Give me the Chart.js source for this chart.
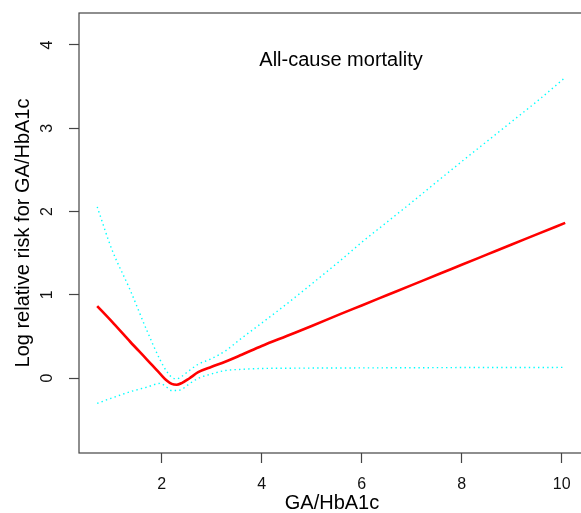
<!DOCTYPE html>
<html>
<head>
<meta charset="utf-8">
<script src="https://cdn.jsdelivr.net/npm/chart.js@4.4.1/dist/chart.umd.min.js"></script>
<style>
  html, body { margin: 0; padding: 0; background: #fff; overflow: hidden; }
  #wrap { position: relative; width: 590px; height: 513px; }
</style>
</head>
<body>
<div id="wrap"><canvas id="c"></canvas></div>
<script>
// ---- data ----
const gaHbA1c = [0.71, 1.0, 1.37, 1.7, 1.97, 2.1, 2.2, 2.3, 2.4, 2.55, 2.73, 3.0, 3.27, 3.6, 4.0, 4.5, 5.0, 5.57, 6.0, 6.5, 7.0, 7.57, 8.0, 8.5, 9.0, 9.5, 10.07];
const logRR   = [0.864, 0.68, 0.436, 0.225, 0.05, -0.03, -0.07, -0.08, -0.06, -0.005, 0.07, 0.135, 0.196, 0.28, 0.385, 0.505, 0.625, 0.768, 0.872, 0.994, 1.116, 1.255, 1.36, 1.482, 1.604, 1.725, 1.864];
const upperCI = [2.056, 1.55, 1.056, 0.576, 0.216, 0.08, 0.01, -0.01, 0.02, 0.09, 0.165, 0.235, 0.325, 0.48, 0.66, 0.89, 1.13, 1.41, 1.63, 1.87, 2.11, 2.39, 2.60, 2.84, 3.08, 3.32, 3.61];
const lowerCI = [-0.304, -0.24, -0.164, -0.11, -0.064, -0.11, -0.15, -0.15, -0.136, -0.07, -0.004, 0.05, 0.09, 0.105, 0.115, 0.118, 0.12, 0.121, 0.122, 0.123, 0.124, 0.125, 0.126, 0.126, 0.127, 0.127, 0.128];
const xTicks = [2, 4, 6, 8, 10];
const yTicks = [0, 1, 2, 3, 4];
const plotTitle = 'All-cause mortality';
const xTitle = 'GA/HbA1c';
const yTitle = 'Log relative risk for GA/HbA1c';

const pts = ys => gaHbA1c.map((x, i) => ({ x: x, y: ys[i] }));

Chart.defaults.font.family = "'Liberation Sans', Arial, Helvetica, sans-serif";
Chart.defaults.color = '#000';

const frameAndTitle = {
  id: 'frameAndTitle',
  afterDraw(chart) {
    const { ctx, chartArea: a } = chart;
    ctx.save();
    ctx.strokeStyle = '#444';
    ctx.lineWidth = 1.2;
    ctx.strokeRect(a.left, a.top, a.right - a.left, a.bottom - a.top);
    ctx.fillStyle = '#000';
    ctx.font = "20px 'Liberation Sans', Arial, sans-serif";
    ctx.textAlign = 'center';
    ctx.textBaseline = 'middle';
    ctx.fillText(plotTitle, a.left + 262, a.top + 47);
    ctx.restore();
  }
};

new Chart(document.getElementById('c'), {
  type: 'line',
  data: {
    datasets: [
      { label: 'Log RR', data: pts(logRR), borderColor: '#ff0000', borderWidth: 2.6,
        pointRadius: 0, cubicInterpolationMode: 'monotone', fill: false },
      { label: 'Upper 95% CI', data: pts(upperCI), borderColor: '#00ffff', borderWidth: 1.4,
        borderDash: [1.4, 3.2], pointRadius: 0, cubicInterpolationMode: 'monotone', fill: false },
      { label: 'Lower 95% CI', data: pts(lowerCI), borderColor: '#00ffff', borderWidth: 1.4,
        borderDash: [1.4, 3.2], pointRadius: 0, cubicInterpolationMode: 'monotone', fill: false }
    ]
  },
  options: {
    responsive: true,
    maintainAspectRatio: false,
    animation: false,
    events: [],
    layout: { padding: { top: 13, right: 5, left: 0, bottom: 0 } },
    plugins: { legend: { display: false }, tooltip: { enabled: false }, title: { display: false } },
    scales: {
      x: {
        type: 'linear',
        min: 0.346, max: 10.466,
        afterBuildTicks: s => { s.ticks = xTicks.map(v => ({ value: v })); },
        afterFit: s => { s.height = 60; s.paddingLeft = 0; s.paddingRight = 0; },
        border: { display: false },
        grid: { drawOnChartArea: false, drawTicks: true, tickLength: 10, tickColor: '#444', tickWidth: 1.2 },
        ticks: { font: { size: 16 }, padding: 12, color: '#111', maxRotation: 0 },
        title: { display: true, text: xTitle, font: { size: 20, lineHeight: 1 }, padding: { top: 0, bottom: 0 }, color: '#000' }
      },
      y: {
        type: 'linear',
        min: -0.9, max: 4.384,
        afterBuildTicks: s => { s.ticks = yTicks.map(v => ({ value: v })); },
        afterFit: s => { s.width = 79; s.paddingTop = 0; s.paddingBottom = 0; },
        border: { display: false },
        grid: { drawOnChartArea: false, drawTicks: true, tickLength: 10, tickColor: '#444', tickWidth: 1.2 },
        ticks: { font: { size: 16 }, padding: 17, color: '#111', minRotation: 90, maxRotation: 90, crossAlign: 'center' },
        title: { display: true, text: yTitle, font: { size: 20, lineHeight: 1 }, padding: { top: 13, bottom: 0 }, color: '#000' }
      }
    }
  },
  plugins: [frameAndTitle]
});
</script>
</body>
</html>
